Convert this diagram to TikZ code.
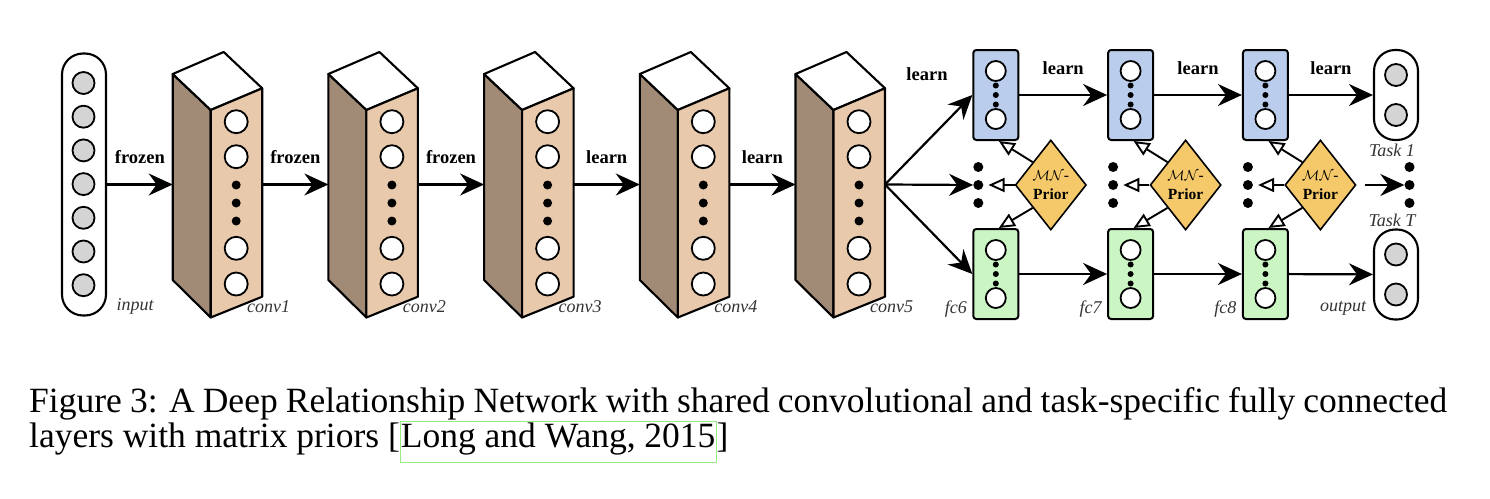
\documentclass[tikz,border=0pt]{standalone}
\usepackage{fontspec}
\setmainfont{Liberation Serif}
\usetikzlibrary{arrows.meta,shapes.geometric,positioning}

\definecolor{convfront}{RGB}{232,201,171}
\definecolor{convside}{RGB}{161,139,119}
\definecolor{fcblue}{RGB}{187,205,236}
\definecolor{fcgreen}{RGB}{203,246,196}
\definecolor{mnprior}{RGB}{245,201,106}
\definecolor{unitgray}{RGB}{212,212,212}
\definecolor{citegreen}{RGB}{150,235,130}

\tikzset{
  unit/.style={circle, draw, line width=1.8pt, fill=white, inner sep=0pt, minimum size=23pt},
  smallunit/.style={unit, minimum size=20pt},
  bigdot/.style={circle, fill=black, inner sep=0pt, minimum size=9pt},
  tinydot/.style={circle, fill=black, inner sep=0pt, minimum size=6pt},
  pill/.style={draw, line width=2.1pt, rounded corners=21pt, minimum width=44pt, inner sep=0pt},
  fcbox/.style={draw, line width=2pt, rounded corners=3pt, minimum width=45pt, minimum height=90pt, inner sep=0pt},
  prior/.style={diamond, draw, line width=1.6pt, fill=mnprior, minimum width=71pt, minimum height=90pt,
    inner sep=0pt, align=center, font=\fontsize{15.5}{19}\selectfont},
  block/.style={draw, line width=2.1pt, line join=round},
  arr/.style={-{Stealth[length=24pt,width=22pt,inset=8pt]}, line width=2.2pt},
  oarr/.style={-{Triangle[length=16pt,width=14pt,fill=white]}, line width=1.9pt},
  lbl/.style={font=\fontsize{18.5}{20}\selectfont\bfseries},
  tag/.style={font=\fontsize{18}{20}\selectfont\itshape, text=black!80},
  capline/.style={anchor=base west, inner sep=0pt, font=\fontsize{35.5}{35.5}\selectfont}
}

\begin{document}
\begin{tikzpicture}[x=1pt,y=-1pt]
\useasboundingbox (0,0) rectangle (1490,498);

% input layer
\node[pill, minimum height=262pt] (input) at (84,184.5) {};
\foreach \k in {1,...,7}
  \node[unit, fill=unitgray, minimum size=22pt] (in\k) at (83.5,{83+33.7*(\k-1)}) {};
\node[tag] (linput) at (135,306) {input};

% conv blocks
\foreach \n in {1,...,5}{
  \pgfmathsetmacro{\x}{172.7+155.7*(\n-1)}
  \draw[block, fill=convside] (\x,74) -- (\x+38,110) -- (\x+38,317.5) -- (\x,280) -- cycle;
  \draw[block, fill=white] (\x,74) -- (\x+51,52) -- (\x+89.5,88.3) -- (\x+38,110) -- cycle;
  \draw[block, fill=convfront] (\x+38,110) -- (\x+89.5,88.3) -- (\x+89.5,296.7) -- (\x+38,317.5) -- cycle;
  \node[unit] (c\n a) at (\x+63.5,121.7) {};
  \node[unit] (c\n b) at (\x+63.5,156.7) {};
  \node[bigdot] (c\n d1) at (\x+63.5,185) {};
  \node[bigdot] (c\n d2) at (\x+63.5,203) {};
  \node[bigdot] (c\n d3) at (\x+63.5,221) {};
  \node[unit] (c\n c) at (\x+63.5,248.3) {};
  \node[unit] (c\n e) at (\x+63.5,284) {};
  \coordinate (conv\n w) at (\x,184.5);
  \coordinate (conv\n e) at (\x+89.5,184.5);
  \node[tag] (lconv\n) at (\x+96,307) {conv\n};
}

\draw[arr] (input.east) -- node[lbl, above=16pt] {frozen} (conv1w);
\draw[arr] (conv1e) -- node[lbl, above=16pt] {frozen} (conv2w);
\draw[arr] (conv2e) -- node[lbl, above=16pt] {frozen} (conv3w);
\draw[arr] (conv3e) -- node[lbl, above=16pt] {learn} (conv4w);
\draw[arr] (conv4e) -- node[lbl, above=16pt] {learn} (conv5w);

% task-specific fc layers
\foreach \n [count=\j from 0] in {6,7,8}{
  \pgfmathsetmacro{\x}{995.8+134.8*\j}
  \node[fcbox, fill=fcblue] (fcup\n) at (\x,95) {};
  \node[fcbox, fill=fcgreen] (fclo\n) at (\x,274) {};
  \node[smallunit] (up\n a) at (\x,71) {};
  \node[smallunit] (up\n b) at (\x,119) {};
  \node[smallunit] (lo\n a) at (\x,250) {};
  \node[smallunit] (lo\n b) at (\x,298) {};
  \foreach \d in {-9.5,0,9.5}{
    \node[tinydot] at (\x,95+\d) {};
    \node[tinydot] at (\x,274+\d) {};
  }
  \node[bigdot, minimum size=10pt] (mid\n a) at (\x-17.5,167) {};
  \node[bigdot, minimum size=10pt] (mid\n) at (\x-17.5,185) {};
  \node[bigdot, minimum size=10pt] (mid\n b) at (\x-17.5,203) {};
  \node[prior] (mn\n) at (\x+55,185) {$\mathcal{M}\mathcal{N}$-\\\textbf{Prior}};
  \node[tag] (lfc\n) at (\x-40,309) {fc\n};
  \draw[oarr] (mn\n.north west) -- ([xshift=3pt]fcup\n.south);
  \draw[oarr, shorten >=5pt] (mn\n.west) -- (mid\n);
  \draw[oarr] (mn\n.south west) -- ([xshift=3pt]fclo\n.north);
}

% fan out of conv5
\draw[arr] (conv5e) -- (fcup6.west);
\draw[arr] (conv5e) -- (mid6);
\draw[arr] (conv5e) -- (fclo6.west);
\node[lbl] (lfan) at (927,74) {learn};

\draw[arr] (fcup6) -- node[lbl, above=16pt] {learn} (fcup7);
\draw[arr] (fcup7) -- node[lbl, above=16pt] {learn} (fcup8);
\draw[arr] (fclo6) -- (fclo7);
\draw[arr] (fclo7) -- (fclo8);

% outputs
\node[pill, minimum height=90pt] (task1) at (1396,95) {};
\node[unit, fill=unitgray, minimum size=22pt] (task1a) at (1396,75) {};
\node[unit, fill=unitgray, minimum size=22pt] (task1b) at (1396,115) {};
\node[pill, minimum height=90pt] (taskT) at (1396,274.5) {};
\node[unit, fill=unitgray, minimum size=22pt] (taskTa) at (1396,254.5) {};
\node[unit, fill=unitgray, minimum size=22pt] (taskTb) at (1396,294.5) {};
\node[bigdot, minimum size=10pt] (rdot1) at (1409.5,167) {};
\node[bigdot, minimum size=10pt] (rdot2) at (1409.5,185) {};
\node[bigdot, minimum size=10pt] (rdot3) at (1409.5,203) {};
\node[tag] (ltask1) at (1392,150) {Task 1};
\node[tag] (ltaskT) at (1392,220) {Task T};
\node[tag] (loutput) at (1343,308) {output};

\draw[arr] (fcup8) -- node[lbl, above=16pt] {learn} (task1);
\draw[arr] (fclo8) -- (taskT);
\draw[arr] ([xshift=8pt]mn8.east) -- (rdot2);

% caption
\node[capline] (cap1) at (29,412.5) {\makebox[1418pt][s]{Figure 3: A Deep Relationship Network with shared convolutional and task-specific fully connected}};
\node[capline] (cap2) at (29,447) {layers with matrix priors [{\color{citegreen}\fboxrule=1pt\fboxsep=0pt\fbox{\color{black}\rule[-14.5pt]{0pt}{39pt}Long and Wang, 2015}}]};
\end{tikzpicture}
\end{document}
